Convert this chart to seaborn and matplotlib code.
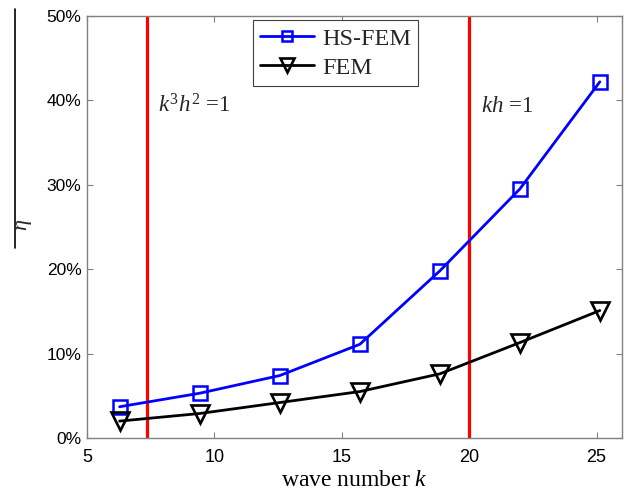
import matplotlib
matplotlib.use("Agg")
import matplotlib.pyplot as plt
from matplotlib.lines import Line2D
from matplotlib.ticker import FuncFormatter
import seaborn as sns
import pandas as pd

# wave numbers k = 2*pi*n and relative errors (percent)
wave_number = [6.28, 9.42, 12.57, 15.71, 18.85, 21.99, 25.13]
hs_fem_error = [3.7, 5.3, 7.4, 11.1, 19.8, 29.5, 42.2]
fem_error = [2.0, 2.9, 4.2, 5.5, 7.6, 11.3, 15.1]
limit_k3h2 = 7.35
limit_kh = 20.0

sns.set_theme(style="ticks")
plt.rcParams["font.family"] = ["Liberation Sans", "DejaVu Sans"]
plt.rcParams["mathtext.fontset"] = "custom"
plt.rcParams["mathtext.rm"] = "Liberation Serif"
plt.rcParams["mathtext.it"] = "Liberation Serif:italic"

fig = plt.figure(figsize=(6.35, 4.92), dpi=100)
ax = fig.add_axes([0.137, 0.1098, 0.8425, 0.8577])

df = pd.DataFrame({"k": wave_number, "hs": hs_fem_error, "fem": fem_error})

sns.lineplot(data=df, x="k", y="hs", ax=ax, color="#0000ff", linewidth=2.0,
             marker="s", markersize=9.5, markerfacecolor="none",
             markeredgecolor="#0000ff", markeredgewidth=1.8, label="HS-FEM")
sns.lineplot(data=df, x="k", y="fem", ax=ax, color="black", linewidth=2.0,
             marker="v", markersize=13, markerfacecolor="none",
             markeredgecolor="black", markeredgewidth=1.9, label="FEM")

ax.axvline(limit_k3h2, color="#ff0000", linewidth=2.3, zorder=1)
ax.axvline(limit_kh, color="#ff0000", linewidth=2.3, zorder=1)

ax.text(7.8, 38.6, r"$k^3h^2$ =1", fontsize=16.5, family="Liberation Serif",
        va="baseline", ha="left")
ax.text(20.45, 38.6, r"$kh$ =1", fontsize=16.5, family="Liberation Serif",
        va="baseline", ha="left")

ax.set_xlim(5, 26)
ax.set_ylim(0, 50)
ax.set_xticks([5, 10, 15, 20, 25])
ax.set_yticks([0, 10, 20, 30, 40, 50])
ax.yaxis.set_major_formatter(FuncFormatter(lambda v, p: f"{v:.0f}%"))
ax.tick_params(direction="in", length=4, width=0.8, color="#808080",
               labelcolor="black", top=True, right=True)
ax.tick_params(axis="x", labelsize=13, pad=8)
ax.tick_params(axis="y", labelsize=12.5, pad=4)
for s in ax.spines.values():
    s.set_color("#808080")
    s.set_linewidth(1.0)
    s.set_visible(True)

ax.set_xlabel(r"wave number $k$", fontsize=17, family="Liberation Serif",
              labelpad=3, color="black")
ax.set_ylabel("")

# rotated eta label with its overbar
fig.text(0.037, 1 - 225 / 492, r"$\eta$", rotation=90, fontsize=16,
         ha="center", va="center")
fig.add_artist(Line2D([15 / 635, 15 / 635], [1 - 9 / 492, 1 - 248 / 492],
                      color="black", linewidth=1.2, transform=fig.transFigure))

leg = ax.legend(loc="upper left", bbox_to_anchor=(0.31, 0.99), borderaxespad=0,
                frameon=True, fancybox=False, framealpha=1, edgecolor="#404040",
                prop={"family": "Liberation Serif", "size": 17.5},
                handlelength=2.2, handletextpad=0.35, borderpad=0.3,
                labelspacing=0.3, markerscale=0.8)
leg.get_frame().set_linewidth(0.8)

fig.savefig("out.png", dpi=100)
